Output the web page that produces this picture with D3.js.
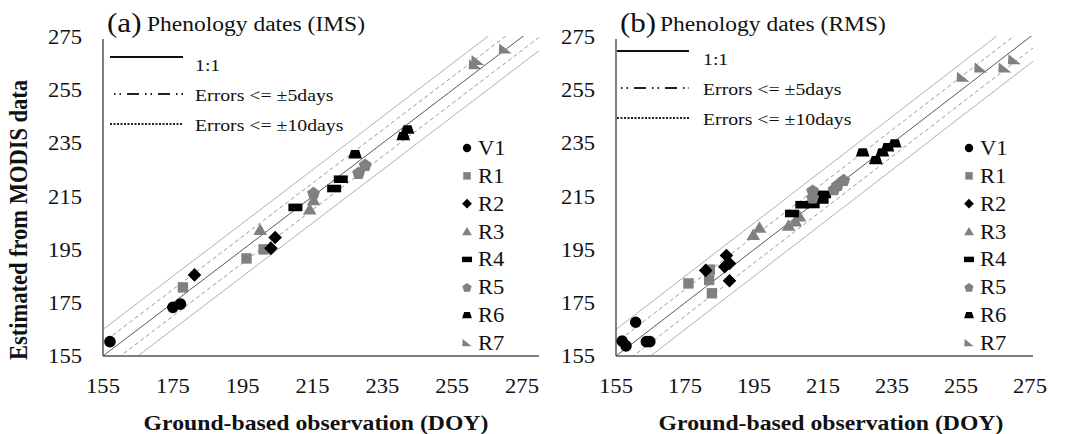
<!DOCTYPE html>
<html>
<head>
<meta charset="utf-8">
<script src="https://cdn.jsdelivr.net/npm/d3@7"></script>
<style>
  body { margin: 0; background: #fff; }
  svg { display: block; }
</style>
</head>
<body>
<div id="chart"></div>
<script>
// Phenology dates: MODIS estimate vs ground observation (DOY), two panels.

const ticks = [155, 175, 195, 215, 235, 255, 275]
const seriesNames = ["V1", "R1", "R2", "R3", "R4", "R5", "R6", "R7"]

// (a) IMS — [ground DOY, MODIS DOY]
const imsV1 = [[157, 160.4], [175, 173.3], [177.2, 174.5]]
const imsR1 = [[177.9, 180.8], [196.1, 191.7], [201, 195.1]]
const imsR2 = [[181.2, 185.5], [203.1, 195.5], [204.3, 199.6]]
const imsR3 = [[200, 202.4], [214.2, 210.1], [215.3, 213.6]]
const imsR4 = [[210.1, 210.9], [221.2, 218], [223.1, 221.5]]
const imsR5 = [[215.3, 216.4], [228.2, 224], [230.1, 227]]
const imsR6 = [[227.2, 230.9], [241, 237.7], [242.2, 240.2]]
const imsR7 = [[261.6, 264.6], [262.3, 266.2], [270.2, 270.5]]

// (b) RMS
const rmsV1 = [[156.8, 160.6], [157.9, 158.8], [160.7, 167.7], [163.8, 160.4], [164.8, 160.4]]
const rmsR1 = [[176, 182.3], [182.2, 187.5], [182, 183.6], [182.8, 178.6]]
const rmsR2 = [[181, 187.2], [187, 192.8], [186.5, 188.6], [187.9, 189.8], [187.9, 183.3]]
const rmsR3 = [[194.8, 200.5], [196.6, 203.2], [205, 204], [207, 205.6], [208.2, 207.5]]
const rmsR4 = [[206, 208.6], [209, 211.9], [212, 212], [214.6, 213.7], [215.3, 215.8]]
const rmsR5 = [[212, 214.7], [212, 217.3], [218.2, 217.8], [219.2, 219.4], [221, 221.3]]
const rmsR6 = [[226.5, 231.6], [230.3, 228.7], [232.2, 231.6], [233.7, 233.5], [235.8, 235]]
const rmsR7 = [[255.6, 259.9], [260.7, 263.3], [267.7, 263.3], [270.5, 266.4]]

const ims = [imsV1, imsR1, imsR2, imsR3, imsR4, imsR5, imsR6, imsR7]
const rms = [rmsV1, rmsR1, rmsR2, rmsR3, rmsR4, rmsR5, rmsR6, rmsR7]

const W = 1075, H = 434
const FONT = "'Liberation Serif', 'Times New Roman', serif"
const SX = 1.13            // the source picture is stretched horizontally
const BLACK = "#000", GREY = "#808080"

// marker paths, s = scale factor
const shapes = [
  { fill: BLACK, d: s => d3.symbol(d3.symbolCircle, Math.PI * (5.8 * s) ** 2)() },
  { fill: GREY,  d: s => `M${-5.2 * s},${-5.2 * s}h${10.4 * s}v${10.4 * s}h${-10.4 * s}Z` },
  { fill: BLACK, d: s => `M0,${-6.8 * s}L${6.8 * s},0L0,${6.8 * s}L${-6.8 * s},0Z` },
  { fill: GREY,  d: s => `M0,${-6.5 * s}L${6.8 * s},${5 * s}L${-6.8 * s},${5 * s}Z` },
  { fill: BLACK, d: s => `M${-7 * s},${-3.8 * s}h${14 * s}v${7.6 * s}h${-14 * s}Z` },
  { fill: GREY,  d: s => {
      const p = d3.range(5).map(i => {
        const a = -Math.PI / 2 + i * 2 * Math.PI / 5
        return [Math.cos(a) * 6.8 * s, Math.sin(a) * 6.8 * s + 0.8 * s]
      })
      return "M" + p.join("L") + "Z"
    } },
  { fill: BLACK, d: s => `M${-4 * s},${-4.2 * s}h${8 * s}L${6.8 * s},${4.2 * s}h${-13.6 * s}Z` },
  { fill: GREY,  d: s => `M${-6 * s},${-5.5 * s}L${6.5 * s},${4.5 * s}L${-6.5 * s},${4.5 * s}Z` }
]

const svg = d3.select("#chart").append("svg")
  .attr("width", W).attr("height", H)
  .attr("font-family", FONT)

function stext(parent, x, y, str, size, opts = {}) {
  return parent.append("text")
    .attr("transform", `translate(${x},${y}) scale(${SX},1)` + (opts.rotate ? ` rotate(${opts.rotate})` : ""))
    .attr("font-size", size)
    .attr("font-weight", opts.bold ? "bold" : null)
    .attr("text-anchor", opts.anchor || "start")
    .attr("fill", "#111")
    .text(str)
}

// x0/x1: pixel of 155 / 275 ; axisEnd: where the horizontal axis line stops
const panels = [
  { id: "a", tag: "(a)", title: "Phenology dates (IMS)", data: ims, x0: 103, x1: 522, axisEnd: 539,
    legLine: [7, 80], legText: 92, legY: [57, 94, 124], mark: -55, name: -44, xTitle: 316 },
  { id: "b", tag: "(b)", title: "Phenology dates (RMS)", data: rms, x0: 616, x1: 1030, axisEnd: 1033,
    legLine: [1, 73], legText: 87, legY: [51, 88, 118], mark: -61, name: -50, xTitle: 831 }
]

const yTop = 37, yBot = 356

panels.forEach(p => {
  const g = svg.append("g")
  const x = d3.scaleLinear().domain([155, 275]).range([p.x0, p.x1])
  const y = d3.scaleLinear().domain([155, 275]).range([yBot, yTop])

  g.append("clipPath").attr("id", "clip-" + p.id)
    .append("rect").attr("x", p.x0).attr("y", 36).attr("width", p.axisEnd - p.x0).attr("height", yBot - 36)

  // reference lines: ±10 (light), ±5 (dashed), 1:1
  const refs = [
    { off: 10, stroke: "#b0b0b0", dash: null },
    { off: -10, stroke: "#b0b0b0", dash: null },
    { off: 5, stroke: "#9a9a9a", dash: "4,3" },
    { off: -5, stroke: "#9a9a9a", dash: "4,3" },
    { off: 0, stroke: "#5a5a5a", dash: null }
  ]
  const lines = g.append("g").attr("clip-path", `url(#clip-${p.id})`)
  refs.forEach(r => {
    lines.append("line")
      .attr("x1", x(145)).attr("y1", y(145 + r.off))
      .attr("x2", x(290)).attr("y2", y(290 + r.off))
      .attr("stroke", r.stroke).attr("stroke-width", 1)
      .attr("stroke-dasharray", r.dash)
  })

  // axes (no tick marks)
  g.append("line").attr("x1", p.x0).attr("x2", p.x0).attr("y1", 39).attr("y2", yBot)
    .attr("stroke", "#555").attr("stroke-width", 1.5)
  g.append("line").attr("x1", p.x0).attr("x2", p.axisEnd).attr("y1", yBot).attr("y2", yBot)
    .attr("stroke", "#555").attr("stroke-width", 1.5)

  ticks.forEach(t => {
    stext(g, p.x0 - 21, y(t) + 7, t, 20, { anchor: "end" })
    stext(g, x(t), 393, t, 20, { anchor: "middle" })
  })

  // points
  p.data.forEach((pts, si) => {
    const sh = shapes[si]
    g.selectAll(null).data(pts).join("path")
      .attr("transform", d => `translate(${x(d[0])},${y(d[1])})`)
      .attr("d", sh.d(1))
      .attr("fill", sh.fill)
  })

  // title
  stext(g, p.x0 + 4, 32, p.tag, 27.5)
  stext(g, p.x0 + 44, 31, p.title, 20.8)

  // line legend
  const ll = [p.x0 + p.legLine[0], p.x0 + p.legLine[1]]
  g.append("line").attr("x1", ll[0]).attr("x2", ll[1]).attr("y1", p.legY[0]).attr("y2", p.legY[0])
    .attr("stroke", "#111").attr("stroke-width", 2)
  g.append("line").attr("x1", ll[0] + 4).attr("x2", ll[1]).attr("y1", p.legY[1]).attr("y2", p.legY[1])
    .attr("stroke", "#222").attr("stroke-width", 2).attr("stroke-dasharray", "1.5,4,1.5,6,12,6")
  g.append("line").attr("x1", ll[0]).attr("x2", ll[1]).attr("y1", p.legY[2]).attr("y2", p.legY[2])
    .attr("stroke", "#222").attr("stroke-width", 2).attr("stroke-dasharray", "2,1.5")
  stext(g, p.x0 + p.legText, p.legY[0] + 14, "1:1", 17.5)
  stext(g, p.x0 + p.legText, p.legY[1] + 6.5, "Errors <= \u00b15days", 17.5)
  stext(g, p.x0 + p.legText, p.legY[2] + 6.5, "Errors <= \u00b110days", 17.5)

  // series legend
  const ly = d3.scalePoint().domain(seriesNames).range([148, 343])
  seriesNames.forEach((n, si) => {
    const cy = ly(n)
    g.append("path").attr("transform", `translate(${p.x1 + p.mark},${cy})`)
      .attr("d", shapes[si].d(0.72)).attr("fill", shapes[si].fill)
    stext(g, p.x1 + p.name, cy + 7, n, 20)
  })

  stext(g, p.xTitle, 430, "Ground-based observation (DOY)", 21, { anchor: "middle", bold: true })
})

// y title (left panel only)
stext(svg, 27, 220, "Estimated from MODIS data", 22.5, { anchor: "middle", bold: true, rotate: -90 })
</script>
</body>
</html>
